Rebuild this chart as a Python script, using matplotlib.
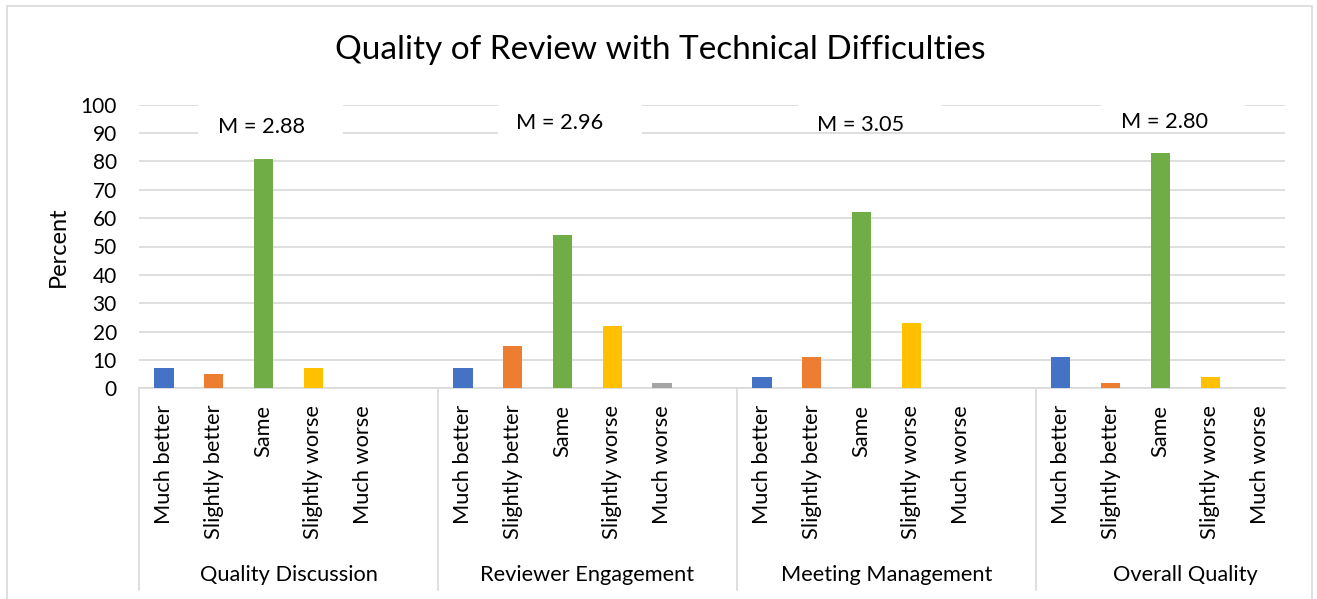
import matplotlib
matplotlib.use("Agg")
import matplotlib.pyplot as plt
from matplotlib.patches import Rectangle
import matplotlib.transforms as mtransforms

plt.rcParams['font.family'] = ['Lato', 'DejaVu Sans']

title = "Quality of Review with Technical Difficulties"
groups = ["Quality Discussion", "Reviewer Engagement", "Meeting Management", "Overall Quality"]
categories = ["Much better", "Slightly better", "Same", "Slightly worse", "Much worse"]
quality_discussion = [7, 5, 81, 7, 0]
reviewer_engagement = [7, 15, 54, 22, 2]
meeting_management = [4, 11, 62, 23, 0]
overall_quality = [11, 2, 83, 4, 0]
means = ["M = 2.88", "M = 2.96", "M = 3.05", "M = 2.80"]
yticks = list(range(0, 101, 10))

series = [quality_discussion, reviewer_engagement, meeting_management, overall_quality]
colors = ["#4472C4", "#ED7D31", "#70AD47", "#FFC000", "#A5A5A5"]

W, H = 1317, 599
fig = plt.figure(figsize=(W / 100, H / 100), dpi=100)
ax_l, ax_r, ax_t, ax_b = 139, 1285, 104.7, 388.3
ax = fig.add_axes([ax_l / W, 1 - ax_b / H, (ax_r - ax_l) / W, (ax_b - ax_t) / H])

# outer chart border
fig.patches.append(Rectangle((7 / W, -0.05), (1312 - 7) / W, 1 + 0.05 - 6 / H,
                             transform=fig.transFigure, fill=False,
                             edgecolor="#D9D9D9", linewidth=1.2))

slots_per_group = len(categories) + 1
n_slots = slots_per_group * (len(groups) - 1) + len(categories)
xs, labels = [], []
for g, vals in enumerate(series):
    for i, v in enumerate(vals):
        x = g * slots_per_group + i
        ax.bar(x, v, width=0.39, color=colors[i], zorder=3)
for s in range(n_slots):
    g, i = divmod(s, slots_per_group)
    xs.append(s)
    labels.append(categories[i] if i < len(categories) else "")

ax.set_xlim(-0.5, n_slots - 0.5)
ax.set_ylim(0, 100)
ax.set_yticks(yticks)
ax.yaxis.grid(True, color="#D9D9D9", linewidth=1.2, zorder=0)
ax.set_axisbelow(True)
for sp in ["left", "right", "top"]:
    ax.spines[sp].set_visible(False)
ax.spines["bottom"].set_color("#D9D9D9")
ax.spines["bottom"].set_linewidth(1.2)
ax.tick_params(axis="y", length=0, pad=16, labelsize=15, labelcolor="#000000")
ax.set_xticks(xs)
ax.set_xticklabels(labels, rotation=90, fontsize=15.7, va="top", ha="center")
ax.tick_params(axis="x", length=0, pad=12)

ax.set_ylabel("Percent", fontsize=17, labelpad=8)

trans = mtransforms.blended_transform_factory(ax.transData, ax.transAxes)
bottom_y = (ax_b - 590) / (ax_b - ax_t)
label_y = (ax_b - 575) / (ax_b - ax_t)
bounds = [-0.5] + [g * slots_per_group + len(categories) + 0.5 for g in range(len(groups))]
for b in bounds:
    ax.plot([b, b], [0, bottom_y], transform=trans, color="#D9D9D9", lw=1.2, clip_on=False)
for g, name in enumerate(groups):
    ax.text((bounds[g] + bounds[g + 1]) / 2, label_y, name, transform=trans,
            ha="center", va="center", fontsize=15.7)

# mean annotation boxes (white boxes over gridlines)
box_x = [(0.68, 3.59), (6.70, 9.59), (12.72, 15.61), (18.81, 21.70)]
box_y = [(88, 102), (88, 102), (96, 102), (96, 102)]
text_pos = [(1.96, 92.2), (7.95, 93.4), (13.98, 92.8), (20.08, 94.0)]
for (x0, x1), (y0, y1), (tx, ty), m in zip(box_x, box_y, text_pos, means):
    ax.add_patch(Rectangle((x0, y0), x1 - x0, y1 - y0, facecolor="white",
                           edgecolor="none", zorder=2, clip_on=False))
    ax.text(tx, ty, m, ha="center", va="center", fontsize=15.7, zorder=4)

fig.text(660 / W, 1 - 50 / H, title, ha="center", va="center", fontsize=24)

fig.savefig("out.png", dpi=100, facecolor="white")
